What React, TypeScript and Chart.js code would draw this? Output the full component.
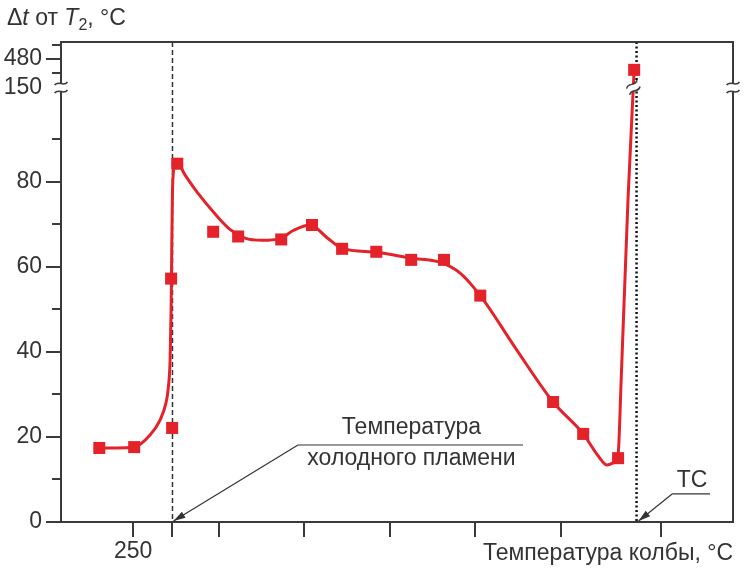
import { useEffect, useRef } from 'react';
import { Chart, registerables } from 'chart.js';

Chart.register(...registerables);

// measured points: flask temperature (°C) and Δt from T2 (°C)
const pointTemps = [240.1, 250.3, 261.1, 261.4, 262.9, 273.4, 280.7, 293.3, 302.3, 311.1, 321.1, 331.3, 340.9, 351.5, 372.8, 381.6, 391.8, 396.5];
const pointDeltas = [17.4, 17.6, 57.2, 22.1, 84.2, 68.2, 67.1, 66.4, 69.8, 64.2, 63.5, 61.6, 61.6, 53.2, 28.2, 20.7, 15, 472];

// smoothed curve drawn through the points
const curveTemps = [239.5, 245, 250.3, 255, 257.9, 259.6, 260.2, 260.8, 261.1, 261.3, 261.5, 262.1, 263.2, 265.2, 268.7, 274.6, 278.4, 282.7, 287.7, 293, 296.8, 301.8, 306.7, 311.1, 321.1, 331.3, 339.8, 345.6, 351.5, 361.7, 372.8, 381.6, 386, 388.6, 390.6, 391.8, 392.7, 394.7, 396.5];
const curveDeltas = [17.4, 17.4, 17.6, 20.5, 24, 28, 31, 38, 50, 65, 78, 83.5, 84, 81.5, 77.5, 71.8, 68.7, 66.7, 66.2, 66.6, 68.5, 69.8, 66.8, 64.3, 63.4, 62, 61, 58.5, 53.2, 41, 28.2, 20.7, 15.5, 13.4, 14, 15.8, 33.4, 75.8, 472];

const coldFlameTemp = 261.5;
const tcTemp = 397.2;

const xTicks = [250, 261.5, 275, 300, 325, 350, 375, 404.4];
const xTickLabels = ['250', '', '', '', '', '', '', ''];

const yMajorTicks = [0, 20, 40, 60, 80, 150, 480];
const yMajorLabels = ['0', '20', '40', '60', '80', '150', '480'];
const yMinorTicks = [10, 30, 50, 70, 90, 470, 490];

const RED = '#e3222a';
const AXIS = '#3a3a3a';
const TEXT = '#333333';
const FONT = '"Liberation Sans", Arial, sans-serif';
const FS = 23;

// broken y axis: 0..100 linear, 150 sits on the break, then a short segment around 480
function toDisplay(v: number): number {
  if (v <= 100) return v;
  if (v <= 150) return 100 + (v - 100) * 0.042;
  return 108.9 + (v - 480) * 0.33;
}

function tilde(ctx: CanvasRenderingContext2D, cx: number, cy: number, w: number) {
  ctx.beginPath();
  ctx.moveTo(cx - w / 2, cy + 1.5);
  ctx.bezierCurveTo(cx - w / 6, cy - 4, cx + w / 6, cy + 4, cx + w / 2, cy - 1.5);
  ctx.stroke();
}

function arrow(ctx: CanvasRenderingContext2D, x1: number, y1: number, x2: number, y2: number) {
  ctx.beginPath();
  ctx.moveTo(x1, y1);
  ctx.lineTo(x2, y2);
  ctx.stroke();
  const ang = Math.atan2(y2 - y1, x2 - x1);
  const len = 12;
  const hw = 3.5;
  const bx = x2 - Math.cos(ang) * len;
  const by = y2 - Math.sin(ang) * len;
  ctx.beginPath();
  ctx.moveTo(x2, y2);
  ctx.lineTo(bx - Math.sin(ang) * hw, by + Math.cos(ang) * hw);
  ctx.lineTo(bx + Math.sin(ang) * hw, by - Math.cos(ang) * hw);
  ctx.closePath();
  ctx.fill();
}

const decor = {
  id: 'decor',
  beforeDatasetsDraw(chart: any) {
    const { ctx, chartArea: a, scales } = chart;
    ctx.save();
    const xc = scales.x.getPixelForValue(coldFlameTemp);
    ctx.strokeStyle = '#333';
    ctx.lineWidth = 1.5;
    ctx.setLineDash([5, 3]);
    ctx.beginPath();
    ctx.moveTo(xc, a.top);
    ctx.lineTo(xc, a.bottom);
    ctx.stroke();
    const xt = scales.x.getPixelForValue(tcTemp);
    ctx.strokeStyle = '#111';
    ctx.lineWidth = 2.5;
    ctx.setLineDash([2, 2.5]);
    ctx.beginPath();
    ctx.moveTo(xt, a.top);
    ctx.lineTo(xt, a.bottom);
    ctx.stroke();
    ctx.restore();
  },
  afterDatasetsDraw(chart: any) {
    const { ctx, chartArea: a, scales } = chart;
    const yb = scales.y.getPixelForValue(toDisplay(150));
    ctx.save();
    // frame top and right
    ctx.strokeStyle = AXIS;
    ctx.lineWidth = 2;
    ctx.beginPath();
    ctx.moveTo(a.left, a.top);
    ctx.lineTo(a.right, a.top);
    ctx.lineTo(a.right, a.bottom);
    ctx.stroke();
    // axis breaks
    ctx.lineWidth = 1.5;
    for (const ax of [a.left, a.right]) {
      ctx.fillStyle = '#fff';
      ctx.fillRect(ax - 3, yb - 4, 6, 8);
      tilde(ctx, ax, yb - 4, 13);
      tilde(ctx, ax, yb + 4, 13);
    }
    // break on the curve
    const n = curveTemps.length;
    const p1x = scales.x.getPixelForValue(curveTemps[n - 2]);
    const p1y = scales.y.getPixelForValue(toDisplay(curveDeltas[n - 2]));
    const p2x = scales.x.getPixelForValue(curveTemps[n - 1]);
    const p2y = scales.y.getPixelForValue(toDisplay(curveDeltas[n - 1]));
    const t = (yb - p1y) / (p2y - p1y);
    const cx = p1x + (p2x - p1x) * t;
    ctx.translate(cx, yb);
    ctx.rotate(-0.45);
    ctx.fillStyle = '#fff';
    ctx.fillRect(-6, -3.5, 12, 7);
    tilde(ctx, 0, -3.5, 13);
    tilde(ctx, 0, 3.5, 13);
    ctx.restore();
  },
  afterDraw(chart: any) {
    const { ctx, chartArea: a, scales } = chart;
    const sx = scales.x;
    const sy = scales.y;
    ctx.save();
    ctx.fillStyle = TEXT;
    ctx.strokeStyle = TEXT;
    ctx.lineWidth = 1.2;
    ctx.font = `${FS}px ${FONT}`;
    ctx.textBaseline = 'middle';

    // cold flame note
    const u1 = sx.getPixelForValue(298.2);
    const u2 = sx.getPixelForValue(364);
    const uy = sy.getPixelForValue(18.1);
    ctx.beginPath();
    ctx.moveTo(u1, uy);
    ctx.lineTo(u2, uy);
    ctx.stroke();
    ctx.textAlign = 'center';
    const mid = (u1 + u2) / 2 + 1;
    ctx.fillText('Температура', mid, uy - 17);
    ctx.fillText('холодного пламени', mid, uy + 14);
    arrow(ctx, u1, uy, sx.getPixelForValue(coldFlameTemp) + 1, a.bottom - 1);

    // TC note
    const t1 = sx.getPixelForValue(407.6);
    const t2 = sx.getPixelForValue(418.7);
    const ty = sy.getPixelForValue(6.6);
    ctx.beginPath();
    ctx.moveTo(t1, ty);
    ctx.lineTo(t2, ty);
    ctx.stroke();
    ctx.fillText('TC', (t1 + t2) / 2 + 1, ty - 13);
    arrow(ctx, t1, ty, sx.getPixelForValue(tcTemp) + 2, a.bottom - 1);

    // axis titles
    ctx.textAlign = 'right';
    ctx.fillText('Температура колбы, °C', a.right, 554);

    ctx.textAlign = 'left';
    ctx.textBaseline = 'alphabetic';
    let x = 7;
    const base = 25;
    const parts: [string, string, number][] = [
      ['Δ', `${FS}px ${FONT}`, 0],
      ['t', `italic ${FS}px ${FONT}`, 0],
      [' от ', `${FS}px ${FONT}`, 0],
      ['T', `italic ${FS}px ${FONT}`, 0],
      ['2', `16px ${FONT}`, 5],
      [', °C', `${FS}px ${FONT}`, 0],
    ];
    for (const [s, f, dy] of parts) {
      ctx.font = f;
      ctx.fillText(s, x, base + dy);
      x += ctx.measureText(s).width;
    }
    ctx.restore();
  },
};

export default function App() {
  const canvasRef = useRef<HTMLCanvasElement>(null);
  const chartRef = useRef<Chart | null>(null);

  useEffect(() => {
    document.body.style.margin = '0';
    if (chartRef.current) chartRef.current.destroy();
    const canvas = canvasRef.current;
    if (!canvas) return;

    const tickFont = { family: FONT, size: FS };

    chartRef.current = new Chart(canvas, {
      type: 'line',
      data: {
        datasets: [
          {
            type: 'scatter',
            data: pointTemps.map((t, i) => ({ x: t, y: toDisplay(pointDeltas[i]) })),
            pointStyle: 'rect',
            pointRadius: 8.5,
            backgroundColor: RED,
            borderWidth: 0,
            yAxisID: 'y',
          },
          {
            type: 'line',
            data: curveTemps.map((t, i) => ({ x: t, y: toDisplay(curveDeltas[i]) })),
            borderColor: RED,
            borderWidth: 3,
            pointRadius: 0,
            cubicInterpolationMode: 'monotone',
            fill: false,
            yAxisID: 'y',
          },
        ],
      },
      options: {
        responsive: false,
        animation: false,
        layout: { padding: { top: 42, right: 13, left: 0, bottom: 0 } },
        plugins: { legend: { display: false }, tooltip: { enabled: false } },
        scales: {
          x: {
            type: 'linear',
            position: 'bottom',
            min: 228.9,
            max: 425.4,
            afterBuildTicks: (s: any) => {
              s.ticks = xTicks.map((v) => ({ value: v }));
            },
            afterFit: (s: any) => {
              s.height = 49;
            },
            grid: { drawOnChartArea: false, drawTicks: true, tickLength: 15, color: AXIS, lineWidth: 2 },
            border: { display: true, color: AXIS, width: 2 },
            ticks: {
              autoSkip: false,
              maxRotation: 0,
              padding: 1,
              color: TEXT,
              font: tickFont,
              callback: (_v: any, i: number) => xTickLabels[i],
            },
          },
          y: {
            type: 'linear',
            position: 'left',
            weight: 1,
            min: 0,
            max: 112.8,
            afterBuildTicks: (s: any) => {
              s.ticks = yMajorTicks.map((v) => ({ value: toDisplay(v) }));
            },
            afterFit: (s: any) => {
              s.width = 61;
            },
            grid: {
              drawOnChartArea: false,
              tickLength: 15,
              lineWidth: 2,
              color: AXIS,
              tickColor: (c: any) => (c.tick && Math.abs(c.tick.value - toDisplay(150)) < 0.01 ? 'rgba(0,0,0,0)' : AXIS),
            },
            border: { display: true, color: AXIS, width: 2 },
            ticks: {
              autoSkip: false,
              padding: 4,
              color: TEXT,
              font: tickFont,
              callback: (_v: any, i: number) => yMajorLabels[i],
            },
          },
          yMinor: {
            type: 'linear',
            position: 'left',
            weight: 0,
            min: 0,
            max: 112.8,
            afterBuildTicks: (s: any) => {
              s.ticks = yMinorTicks.map((v) => ({ value: toDisplay(v) }));
            },
            afterFit: (s: any) => {
              s.width = 0;
            },
            grid: { drawOnChartArea: false, tickLength: 9, lineWidth: 2, color: AXIS },
            border: { display: false },
            ticks: { display: false },
          },
        },
      },
      plugins: [decor],
    } as any);

    return () => {
      if (chartRef.current) {
        chartRef.current.destroy();
        chartRef.current = null;
      }
    };
  }, []);

  return <canvas ref={canvasRef} width={746} height={571} style={{ display: 'block' }} />;
}
